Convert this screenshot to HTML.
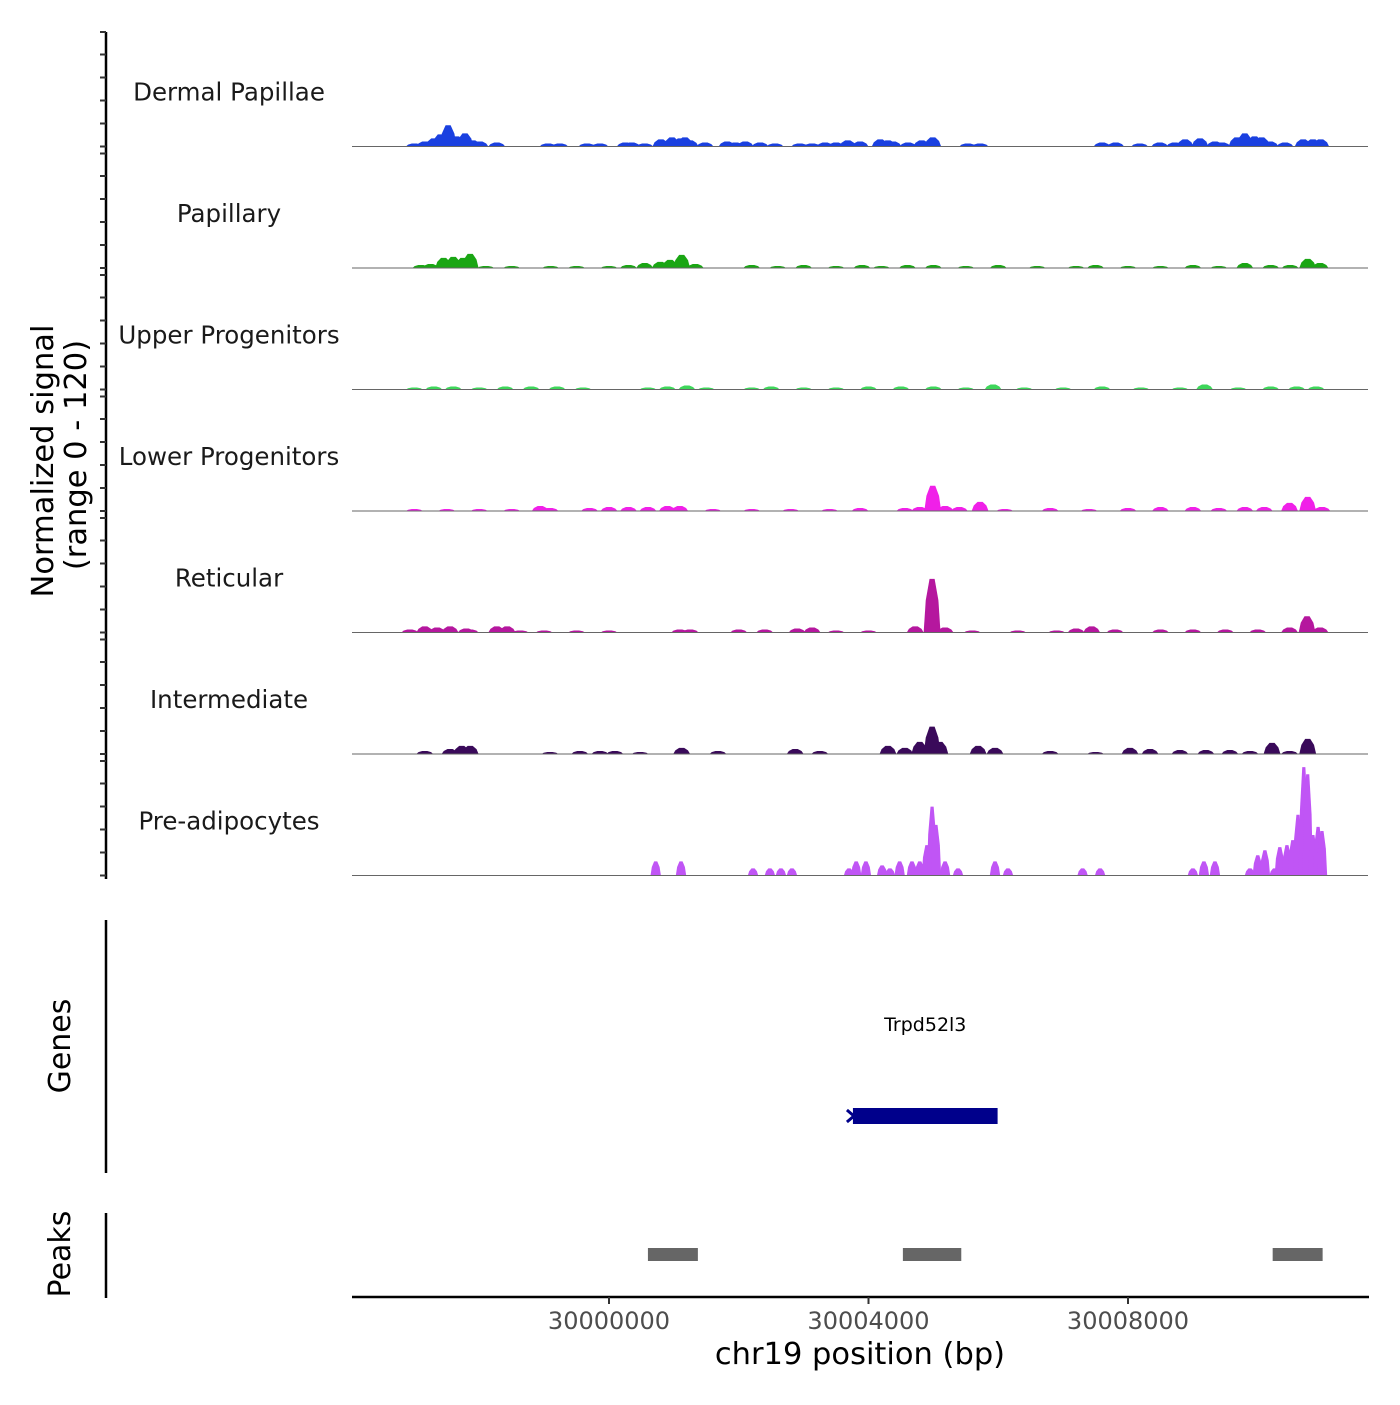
<!DOCTYPE html>
<html><head><meta charset="utf-8"><style>
body{margin:0;background:#fff;}
svg text{font-family:"DejaVu Sans","Liberation Sans",sans-serif;}
</style></head><body>
<svg id="chart" width="1400" height="1400" viewBox="0 0 1400 1400" xmlns="http://www.w3.org/2000/svg"></svg>
<script>
const trackNames = ["Dermal Papillae","Papillary","Upper Progenitors","Lower Progenitors","Reticular","Intermediate","Pre-adipocytes"];
const trackColors = ["#1a40e0","#1aa614","#3ed65a","#f020e8","#b5179e","#3a0a5a","#c055f5"];
// peak centers (kb offset from 30000000), heights (signal)
const dpPos = [-3.0,-2.84,-2.7,-2.6,-2.48,-2.35,-2.22,-2.1,-1.99,-1.73,-0.94,-0.76,-0.34,-0.14,0.25,0.35,0.55,0.8,0.97,1.1,1.17,1.25,1.48,1.82,1.95,2.10,2.33,2.56,2.94,3.13,3.33,3.50,3.68,3.87,4.18,4.30,4.38,4.61,4.82,4.99,5.53,5.72,7.60,7.81,8.18,8.49,8.72,8.88,9.11,9.34,9.45,9.68,9.80,9.95,10.06,10.19,10.42,10.70,10.85,10.97];
const dpVal = [3,5,8,12,21,10,13,6,5,4,3,3,3,3,4,4,3,7,9,8,9,6,4,5,4,5,4,3,3,3,4,4,6,5,7,6,5,4,6,9,3,3,4,4,3,4,4,7,8,5,4,9,13,10,9,5,4,7,7,7];
const papPos = [-2.9,-2.75,-2.55,-2.4,-2.25,-2.14,-1.9,-1.5,-0.9,-0.5,0.0,0.3,0.55,0.79,0.94,1.12,1.33,2.2,2.6,3.0,3.5,3.9,4.2,4.6,5.0,5.5,6.0,6.6,7.2,7.5,8.0,8.5,9.0,9.4,9.80,10.2,10.5,10.77,10.96];
const papVal = [3,4,10,11,10,14,2,2,2,2,2,3,5,6,8,13,4,3,2,3,2,3,2,3,3,2,3,2,2,3,2,2,3,2,5,3,3,9,5];
const upPos = [-3.0,-2.7,-2.4,-2.0,-1.6,-1.2,-0.8,-0.4,0.6,0.9,1.2,1.5,2.2,2.5,3.0,3.5,4.0,4.5,5.0,5.5,5.92,6.4,7.0,7.6,8.2,8.8,9.18,9.7,10.2,10.6,10.9];
const upVal = [2,3,3,2,3,3,3,2,2,3,4,2,2,3,2,2,3,3,3,2,5,2,2,3,2,2,5,2,3,3,3];
const lpPos = [-3.0,-2.5,-2.0,-1.5,-1.06,-0.91,-0.3,0.0,0.3,0.6,0.9,1.09,1.6,2.2,2.8,3.4,3.87,4.56,4.79,4.99,5.18,5.40,5.72,6.1,6.8,7.4,8.0,8.5,9.0,9.4,9.8,10.1,10.49,10.77,10.99];
const lpVal = [2,2,2,2,5,3,3,4,4,4,5,5,2,2,2,2,3,3,4,25,5,4,9,2,3,2,3,4,4,3,4,4,8,14,4];
const retPos = [-3.07,-2.84,-2.65,-2.45,-2.2,-2.14,-1.73,-1.57,-1.37,-1.0,-0.5,0.0,1.09,1.25,2.0,2.4,2.9,3.13,3.5,4.0,4.72,4.98,5.18,5.6,6.3,6.9,7.2,7.44,7.8,8.5,9.0,9.5,10.0,10.49,10.76,10.96];
const retVal = [3,6,5,6,4,3,6,6,2,2,2,2,3,3,3,3,4,5,2,2,6,53,5,2,2,2,4,6,3,3,3,3,3,5,16,5];
const intPos = [-2.84,-2.45,-2.27,-2.14,-0.91,-0.45,-0.14,0.09,0.48,1.12,1.68,2.87,3.25,4.30,4.56,4.79,4.98,5.10,5.69,5.95,6.80,7.5,8.03,8.34,8.8,9.2,9.57,9.88,10.22,10.49,10.77];
const intVal = [3,5,8,8,2,3,3,3,2,6,3,5,3,8,6,12,27,12,8,6,3,2,6,5,4,4,4,3,11,3,15];
const preaPos = [0.72,1.11,2.22,2.48,2.65,2.82,3.70,3.81,3.96,4.21,4.33,4.48,4.67,4.79,4.90,4.98,5.04,5.18,5.38,5.95,6.15,7.30,7.57,9.00,9.17,9.34,9.88,10.00,10.11,10.26,10.34,10.45,10.54,10.62,10.71,10.77,10.85,10.93,10.99];
const preaVal = [14,14,7,7,7,7,7,14,14,10,7,14,14,14,30,68,50,14,7,14,7,7,7,7,14,14,7,20,25,7,28,30,35,60,107,100,40,48,44];
const allPos = [dpPos,papPos,upPos,lpPos,retPos,intPos,preaPos];
const allVal = [dpVal,papVal,upVal,lpVal,retVal,intVal,preaVal];
const xTicks = [30000000,30004000,30008000];
const xTickLabels = ["30000000","30004000","30008000"];
const geneName = "Trpd52l3";
const geneStartKb = 3.76, geneEndKb = 5.99;
const peakStarts = [0.60,4.53,10.23];
const peakEnds = [1.37,5.43,11.0];

const svg = document.getElementById('chart');
const NS = 'http://www.w3.org/2000/svg';
function mk(tag, attrs, parent){const e=document.createElementNS(NS,tag);for(const k in attrs)e.setAttribute(k,attrs[k]);(parent||svg).appendChild(e);return e;}
function xs(kb){return 609 + kb*64.875;}
function xsBp(bp){return xs((bp-30000000)/1000);}
const trackTop0 = 25, trackH = 121.5, yMax = 120;
function ys(t,v){const base = trackTop0 + (t+1)*trackH; return base - v*(trackH/yMax);}

for(let t=0;t<7;t++){
  const g = mk('g',{});
  
  
  const pos = allPos[t], val = allVal[t];
  const base = ys(t,0);
  for(let i=0;i<pos.length;i++){
    const w = t===6 ? 0.16 : 0.26;
    const c = xs(pos[i]), hw = w*64.875/2;
    const top = ys(t,val[i]);
    const p = mk('polygon',{points:`${c-hw},${base} ${c-hw*0.75},${base-(base-top)*0.6} ${c-hw*0.3},${top} ${c+hw*0.3},${top} ${c+hw*0.75},${base-(base-top)*0.6} ${c+hw},${base}`,fill:trackColors[t]},g);
    
    
  }
  const bl = mk('line',{x1:352,x2:1368,y1:base,y2:base,stroke:'#666','stroke-width':1},g);
  
  
  const lb = mk('text',{x:229,y:ys(t,0)-46,'text-anchor':'middle','font-size':24.5,fill:'#1a1a1a'},g);
  lb.textContent = trackNames[t];
  
  
}
const ax = mk('g',{});


mk('line',{x1:106,x2:106,y1:32,y2:879,stroke:'#000','stroke-width':2.5},ax);
for(let t=0;t<7;t++){
  const base = ys(t,0);
  mk('line',{x1:100,x2:106,y1:base-trackH+7,y2:base-trackH+7,stroke:'#333','stroke-width':2},ax);
  for(let k=0;k<5;k++){const y=base-k*23;mk('line',{x1:100,x2:106,y1:y,y2:y,stroke:'#333','stroke-width':2},ax);}
}
const yt = mk('text',{transform:'translate(53,461) rotate(-90)','text-anchor':'middle','font-size':30.5,fill:'#000'});
yt.textContent='Normalized signal';


const yt2 = mk('text',{transform:'translate(86,455) rotate(-90)','text-anchor':'middle','font-size':30.5,fill:'#000'});
yt2.textContent='(range 0 - 120)';



const gg = mk('g',{});


mk('line',{x1:106,x2:106,y1:920,y2:1173,stroke:'#000','stroke-width':2.5},gg);
const gt = mk('text',{transform:'translate(70,1046) rotate(-90)','text-anchor':'middle','font-size':30,fill:'#000'},gg);
gt.textContent='Genes';
const gl = mk('text',{x:(xs(geneStartKb)+xs(geneEndKb))/2,y:1031,'text-anchor':'middle','font-size':19,fill:'#000'},gg);
gl.textContent=geneName;


const gb = mk('rect',{x:xs(geneStartKb),y:1108,width:xs(geneEndKb)-xs(geneStartKb),height:16,fill:'#00008b'},gg);


const gs = xs(geneStartKb);
mk('path',{d:`M${gs-6},${1110} L${gs+1},${1116} L${gs-6},${1122}`,stroke:'#00008b','stroke-width':3,fill:'none'},gg);

const pg = mk('g',{});


mk('line',{x1:106,x2:106,y1:1213,y2:1298,stroke:'#000','stroke-width':2.5},pg);
const pt = mk('text',{transform:'translate(70,1254) rotate(-90)','text-anchor':'middle','font-size':30,fill:'#000'},pg);
pt.textContent='Peaks';
for(let i=0;i<peakStarts.length;i++){
  const r = mk('rect',{x:xs(peakStarts[i]),y:1248,width:xs(peakEnds[i])-xs(peakStarts[i]),height:13,fill:'#666'},pg);
  
  
}
const xg = mk('g',{});


mk('line',{x1:352,x2:1369,y1:1297,y2:1297,stroke:'#000','stroke-width':2.5},xg);
for(let i=0;i<xTicks.length;i++){
  const x = xsBp(xTicks[i]);
  mk('line',{x1:x,x2:x,y1:1297,y2:1304,stroke:'#333','stroke-width':2},xg);
  const tl = mk('text',{x:x,y:1329,'text-anchor':'middle','font-size':24,fill:'#4d4d4d'},xg);
  tl.textContent=xTickLabels[i];
  
  
}
const xt = mk('text',{x:860,y:1364,'text-anchor':'middle','font-size':30.5,fill:'#000'},xg);
xt.textContent='chr19 position (bp)';


</script>
</body></html>
